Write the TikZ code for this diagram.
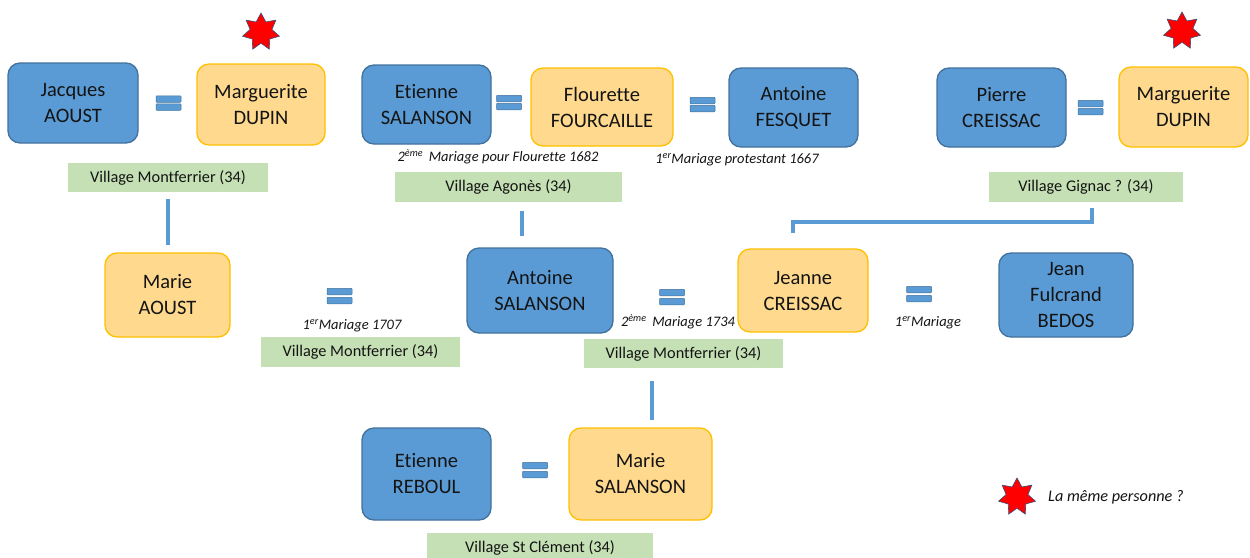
\documentclass[tikz,border=0pt]{standalone}
\usepackage{fontspec}
\setmainfont{Carlito}[Ligatures=CommonOff]
\usetikzlibrary{shapes.geometric,calc}
\definecolor{bfill}{HTML}{5B9BD5}
\definecolor{bdraw}{HTML}{41719C}
\definecolor{ofill}{HTML}{FFD98E}
\definecolor{odraw}{HTML}{FFC000}
\definecolor{gfill}{HTML}{C5E0B4}
\definecolor{txt}{HTML}{141414}
\definecolor{starred}{HTML}{FF0000}
\definecolor{stardraw}{HTML}{3A4F7A}
\tikzset{
  person/.style={rounded corners=12pt, line width=1.3pt, inner sep=0pt, align=center,
    text=txt, font=\fontsize{20.5}{26}\selectfont},
  man/.style={person, fill=bfill, draw=bdraw},
  woman/.style={person, fill=ofill, draw=odraw},
  village/.style={fill=gfill, inner sep=0pt, text=txt, font=\fontsize{16.3}{18}\selectfont},
  note/.style={inner sep=0pt, text=txt, font=\fontsize{14.5}{17}\selectfont\itshape},
  eqbar/.style={fill=bfill, draw=bdraw, line width=0.5pt, inner sep=0pt,
    minimum width=25pt, minimum height=6.5pt, rounded corners=0.8pt},
  link/.style={draw=bfill, line width=3.5pt},
  mark7/.style={star, star points=7, star point ratio=1.7, fill=starred, draw=stardraw,
    line width=0.6pt, minimum size=38pt, inner sep=0pt, shape border rotate=0}
}
\begin{document}
\begin{tikzpicture}[x=1pt,y=-1pt]
\useasboundingbox (0,0) rectangle (1250,557);
% top row
\node[man, minimum width=130pt, minimum height=80pt] (jacques) at (73,103) {Jacques\\AOUST};
\node[eqbar] (eq1a) at (168.5,99) {};
\node[eqbar] (eq1b) at (168.5,107) {};
\node[woman, minimum width=128pt, minimum height=81pt] (margL) at (261,104.5) {Marguerite\\DUPIN};
\node[mark7] (starL) at (261,32) {};
\node[village, minimum width=200pt, minimum height=29pt] (villMont1) at (168,177.5) {Village Montferrier (34)};

\node[man, minimum width=129pt, minimum height=79pt] (etienneS) at (426.5,104.5) {Etienne\\SALANSON};
\node[eqbar] (eq2a) at (509,98.5) {};
\node[eqbar] (eq2b) at (509,106.5) {};
\node[woman, minimum width=142pt, minimum height=78pt] (flourette) at (602,107) {Flourette\\FOURCAILLE};
\node[eqbar] (eq3a) at (702.5,100.5) {};
\node[eqbar] (eq3b) at (702.5,108.5) {};
\node[man, minimum width=129pt, minimum height=79pt] (fesquet) at (793.5,107.5) {Antoine\\FESQUET};
\node[note] (n1) at (498,157) {2\textsuperscript{ème}\, Mariage pour Flourette 1682};
\node[note] (n2) at (737,159.5) {1\textsuperscript{er}Mariage protestant 1667};
\node[village, minimum width=227pt, minimum height=30pt] (villAgones) at (508.5,187) {Village Agonès (34)};

\node[man, minimum width=129pt, minimum height=79pt] (pierre) at (1001.5,107.5) {Pierre\\CREISSAC};
\node[eqbar] (eq4a) at (1090.5,103.5) {};
\node[eqbar] (eq4b) at (1090.5,111.5) {};
\node[woman, minimum width=129pt, minimum height=80pt] (margR) at (1183.5,107) {Marguerite\\DUPIN};
\node[mark7] (starR) at (1182,31) {};
\node[village, minimum width=194pt, minimum height=30pt] (villGignac) at (1086,187) {Village Gignac ? (34)};

% middle row
\node[woman, minimum width=125pt, minimum height=84pt] (marieA) at (167.5,295) {Marie\\AOUST};
\node[eqbar] (eq5a) at (339.5,291.5) {};
\node[eqbar] (eq5b) at (339.5,300.5) {};
\node[note] (n3) at (352,326) {1\textsuperscript{er}Mariage 1707};
\node[village, minimum width=199pt, minimum height=30pt] (villMont2) at (360.5,352) {Village Montferrier (34)};

\node[man, minimum width=146pt, minimum height=85pt] (antoineS) at (540,290.5) {Antoine\\SALANSON};
\node[eqbar] (eq6a) at (672,292.5) {};
\node[eqbar] (eq6b) at (672,301.5) {};
\node[note] (n4) at (678,322) {2\textsuperscript{ème}\, Mariage 1734};
\node[woman, minimum width=130pt, minimum height=83pt] (jeanne) at (803,290.5) {Jeanne\\CREISSAC};
\node[village, minimum width=199pt, minimum height=29pt] (villMont3) at (683.5,353.5) {Village Montferrier (34)};

\node[eqbar] (eq7a) at (919,289.5) {};
\node[eqbar] (eq7b) at (919,298.5) {};
\node[note] (n5) at (928,323) {1\textsuperscript{er}Mariage};
\node[man, minimum width=134pt, minimum height=84pt] (bedos) at (1066,295) {Jean\\Fulcrand\\BEDOS};

% bottom row
\node[man, minimum width=129pt, minimum height=92pt] (reboul) at (426.5,474) {Etienne\\REBOUL};
\node[eqbar] (eq8a) at (535,465.5) {};
\node[eqbar] (eq8b) at (535,474.5) {};
\node[woman, minimum width=143pt, minimum height=92pt] (marieS) at (640.5,474) {Marie\\SALANSON};
\node[village, minimum width=226pt, minimum height=30pt] (villStC) at (540,548) {Village St Clément (34)};

% legend
\node[mark7] (starLeg) at (1017,497) {};
\node[note, anchor=west, font=\fontsize{16.2}{18}\selectfont\itshape] (legend) at (1048,497) {La même personne ?};

% connectors
\draw[link, shorten <=7pt, shorten >=7pt] (villMont1.south) -- (villMont1.south |- marieA.north);
\draw[link, shorten <=9pt, shorten >=11pt] ([xshift=13.5pt]villAgones.south) -- ([xshift=13.5pt]villAgones.south |- antoineS.north);
\draw[link, shorten <=13pt, shorten >=7pt] ([xshift=-31.5pt]villMont3.south) -- ([xshift=-31.5pt]villMont3.south |- marieS.north);
\draw[link, shorten <=6pt, shorten >=15pt] ([xshift=6pt]villGignac.south) -- ++(0,20) -| ([xshift=-10pt]jeanne.north);
\end{tikzpicture}
\end{document}
